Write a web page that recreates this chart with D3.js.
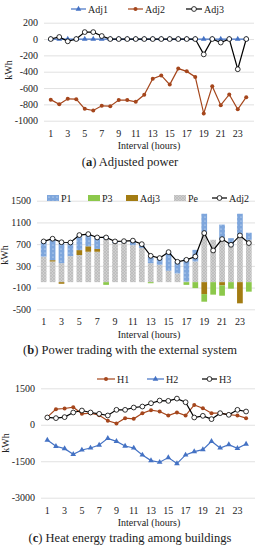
<!DOCTYPE html>
<html>
<head>
<meta charset="utf-8">
<script src="https://cdn.jsdelivr.net/npm/d3@7"></script>
<style>
  body { margin: 0; background: #fff; }
  text { font-family: "Liberation Serif", "DejaVu Serif", serif; fill: #222; }
</style>
</head>
<body>
<svg id="chart" width="259" height="550"></svg>
<script>
"use strict";

// hours on the x axis
const hours = [1,2,3,4,5,6,7,8,9,10,11,12,13,14,15,16,17,18,19,20,21,22,23,24]
const hourTicks = [1,3,5,7,9,11,13,15,17,19,21,23]

// (a) adjusted power
const adj1 = [0,0,0,0,0,0,0,0,0,0,0,0,0,0,0,0,0,0,0,0,0,0,0,0]
const adj2 = [-742,-798,-732,-736,-855,-875,-818,-822,-748,-748,-769,-683,-485,-446,-558,-362,-396,-464,-912,-577,-810,-679,-860,-712]
const adj3 = [0,25,-28,0,85,85,37,0,0,0,0,0,0,0,0,0,0,0,-188,0,-43,0,-370,0]
const ticksA = [200,0,-200,-400,-600,-800,-1000]

// (b) power trading with the external system
const pe    = [470,380,350,480,500,560,560,790,720,730,680,630,350,320,210,160,10,380,930,780,780,660,870,780]
const adj3b = [0,25,-30,0,90,100,50,0,0,0,0,0,0,0,0,0,0,0,-220,0,-60,0,-390,0]
const p3    = [0,0,0,0,0,0,0,-50,0,0,0,0,-20,0,0,0,-50,-110,-140,-230,-190,-120,0,-175]
const p1    = [280,390,370,250,270,220,220,60,20,20,90,50,120,120,330,215,430,215,330,0,280,150,390,130]
const adj2b = [750,800,735,730,867,885,823,823,750,755,765,700,485,443,553,375,411,472,904,583,793,688,860,720]
const ticksB = [1500,1100,700,300,-100,-500]

// (c) heat energy trading among buildings
const h1 = [314,641,668,723,450,477,390,164,55,273,245,477,600,545,380,505,380,818,682,477,477,420,380,273]
const h2 = [-627,-886,-982,-1214,-1036,-955,-832,-559,-682,-873,-955,-1241,-1473,-1541,-1350,-1596,-1241,-1105,-1023,-682,-955,-818,-968,-791]
const h3 = [300,273,314,505,586,505,450,382,614,614,709,750,886,995,982,1077,927,300,368,232,477,409,614,545]
const ticksC = [1500,0,-1500,-3000]

const BLUE = "#4472c4", BROWN = "#a5461c", GRID = "#d9d9d9"
const C_P1 = "#7ea6dc", C_P3 = "#8cc84b", C_ADJ3 = "#a37c12", C_PE = "#cfcfcf"

const svg = d3.select("#chart")

// fill patterns for the bars
const defs = svg.append("defs")
const pDots = defs.append("pattern").attr("id", "dots")
	.attr("width", 4).attr("height", 4).attr("patternUnits", "userSpaceOnUse")
pDots.append("rect").attr("width", 4).attr("height", 4).attr("fill", C_P1)
pDots.append("circle").attr("cx", 1).attr("cy", 1).attr("r", 0.6).attr("fill", "#e8f0fb")
const pHatch = defs.append("pattern").attr("id", "hatch")
	.attr("width", 3).attr("height", 3).attr("patternUnits", "userSpaceOnUse")
pHatch.append("rect").attr("width", 3).attr("height", 3).attr("fill", C_PE)
pHatch.append("path").attr("d", "M0,3 L3,0 M0,0 L3,3").attr("stroke", "#b0b0b0").attr("stroke-width", 0.5)

function frame(y, ticks, x0, x1, labelX, labelY) {
	const g = svg.append("g")
	g.append("g")
		.attr("transform", `translate(${x0},0)`)
		.call(d3.axisLeft(y).tickValues(ticks).tickSize(-(x1 - x0)).tickPadding(6).tickFormat(d3.format("d")))
		.call(a => a.select(".domain").remove())
		.call(a => a.selectAll("line").attr("stroke", GRID).attr("stroke-width", 0.8))
		.call(a => a.selectAll("text").attr("font-size", 10).attr("fill", "#222")
			.style("font-family", "Liberation Serif, serif").text(d => d < 0 ? "-" + (-d) : d))
	g.append("text")
		.attr("transform", `translate(${labelX},${labelY}) rotate(-90)`)
		.attr("text-anchor", "middle").attr("font-size", 10).text("kWh")
	return g
}

function xAxis(x, yPos) {
	svg.append("g")
		.attr("transform", `translate(0,${yPos})`)
		.call(d3.axisBottom(x).tickValues(hourTicks).tickSize(0).tickPadding(9))
		.call(a => a.select(".domain").remove())
		.call(a => a.selectAll("text").attr("font-size", 10).attr("fill", "#222")
			.style("font-family", "Liberation Serif, serif"))
}

function titles(label, caption, yLabel, yCap) {
	svg.append("text").attr("x", 149).attr("y", yLabel).attr("text-anchor", "middle")
		.attr("font-size", 10).text("Interval (hours)")
	const t = svg.append("text").attr("x", 130).attr("y", yCap).attr("text-anchor", "middle").attr("font-size", 12.5)
	t.append("tspan").text("(")
	t.append("tspan").attr("font-weight", "bold").text(label)
	t.append("tspan").text(") " + caption)
}

function marker(g, type, color, cx, cy) {
	if (type == "tri") {
		g.append("path").attr("d", d3.symbol(d3.symbolTriangle, 14)())
			.attr("transform", `translate(${cx},${cy})`).attr("fill", color)
	} else if (type == "dot") {
		g.append("circle").attr("cx", cx).attr("cy", cy).attr("r", 2).attr("fill", color)
	} else {
		g.append("circle").attr("cx", cx).attr("cy", cy).attr("r", 2.4)
			.attr("fill", "#fff").attr("stroke", "#000").attr("stroke-width", 0.8)
	}
}

function series(x, y, vals, color, type) {
	const g = svg.append("g")
	const line = d3.line().x((d, i) => x(hours[i]) + x.bandwidth() / 2).y(d => y(d))
	g.append("path").attr("d", line(vals)).attr("fill", "none")
		.attr("stroke", color).attr("stroke-width", 1.2)
	vals.forEach((v, i) => marker(g, type, color, x(hours[i]) + x.bandwidth() / 2, y(v)))
}

function legendLine(x, y, w, color, type, label) {
	const g = svg.append("g")
	g.append("line").attr("x1", x).attr("x2", x + w).attr("y1", y).attr("y2", y)
		.attr("stroke", color).attr("stroke-width", 1.2)
	marker(g, type, color, x + w / 2, y)
	g.append("text").attr("x", x + w + 2).attr("y", y + 3.5).attr("font-size", 10).text(label)
}

function legendBox(x, y, fill, label) {
	svg.append("rect").attr("x", x).attr("y", y - 3).attr("width", 12).attr("height", 6).attr("fill", fill)
	svg.append("text").attr("x", x + 14).attr("y", y + 3.5).attr("font-size", 10).text(label)
}

// ---------- (a) ----------
{
	const x = d3.scaleBand().domain(hours).range([46.5, 250.5])
	const y = d3.scaleLinear().domain([-1000, 200]).range([120.7, 22.7])
	frame(y, ticksA, 44, 254, 12, 70)
	series(x, y, adj1, BLUE, "tri")
	series(x, y, adj2, BROWN, "dot")
	series(x, y, adj3, "#000", "open")
	xAxis(x, 120.7)
	legendLine(71, 9, 15, BLUE, "tri", "Adj1")
	legendLine(128, 9, 15, BROWN, "dot", "Adj2")
	legendLine(186, 9, 16, "#000", "open", "Adj3")
	titles("a", "Adjusted power", 149, 166)
}

// ---------- (b) ----------
{
	const x = d3.scaleBand().domain(hours).range([39.2, 253.3]).paddingInner(0.36).paddingOuter(0.18)
	const y = d3.scaleLinear().domain([-500, 1500]).range([309.3, 200.7])
	frame(y, ticksB, 37, 255, 8, 255)
	const rows = hours.map((h, i) => ({ hour: h, Pe: pe[i], Adj3: adj3b[i], P3: p3[i], P1: p1[i] }))
	const keys = ["Pe", "Adj3", "P3", "P1"]
	const fills = { Pe: "url(#hatch)", Adj3: C_ADJ3, P3: C_P3, P1: "url(#dots)" }
	const stack = d3.stack().keys(keys).offset(d3.stackOffsetDiverging)(rows)
	svg.append("g").selectAll("g").data(stack).join("g")
		.attr("fill", d => fills[d.key])
		.selectAll("rect").data(d => d).join("rect")
		.attr("x", d => x(d.data.hour))
		.attr("width", x.bandwidth())
		.attr("y", d => y(Math.max(d[0], d[1])))
		.attr("height", d => Math.abs(y(d[0]) - y(d[1])))
	const xl = d3.scaleBand().domain(hours).range([39.2, 253.3])
	series(xl, y, adj2b, "#000", "open")
	xAxis(xl, 309.3)
	legendBox(47, 198, "url(#dots)", "P1")
	legendBox(88, 198, C_P3, "P3")
	legendBox(126, 198, C_ADJ3, "Adj3")
	legendBox(174, 198, "url(#hatch)", "Pe")
	legendLine(212, 198, 15, "#000", "open", "Adj2")
	titles("b", "Power trading with the external system", 338, 354)
}

// ---------- (c) ----------
{
	const x = d3.scaleBand().domain(hours).range([43, 250.4])
	const y = d3.scaleLinear().domain([-3000, 1500]).range([497.7, 388.3])
	frame(y, ticksC, 41, 255, 9, 443)
	series(x, y, h1, BROWN, "dot")
	series(x, y, h2, BLUE, "tri")
	series(x, y, h3, "#000", "open")
	xAxis(x, 497.7)
	legendLine(97, 379, 18, BROWN, "dot", "H1")
	legendLine(147, 379, 17, BLUE, "tri", "H2")
	legendLine(202, 379, 15, "#000", "open", "H3")
	titles("c", "Heat energy trading among buildings", 526, 542)
}
</script>
</body>
</html>
